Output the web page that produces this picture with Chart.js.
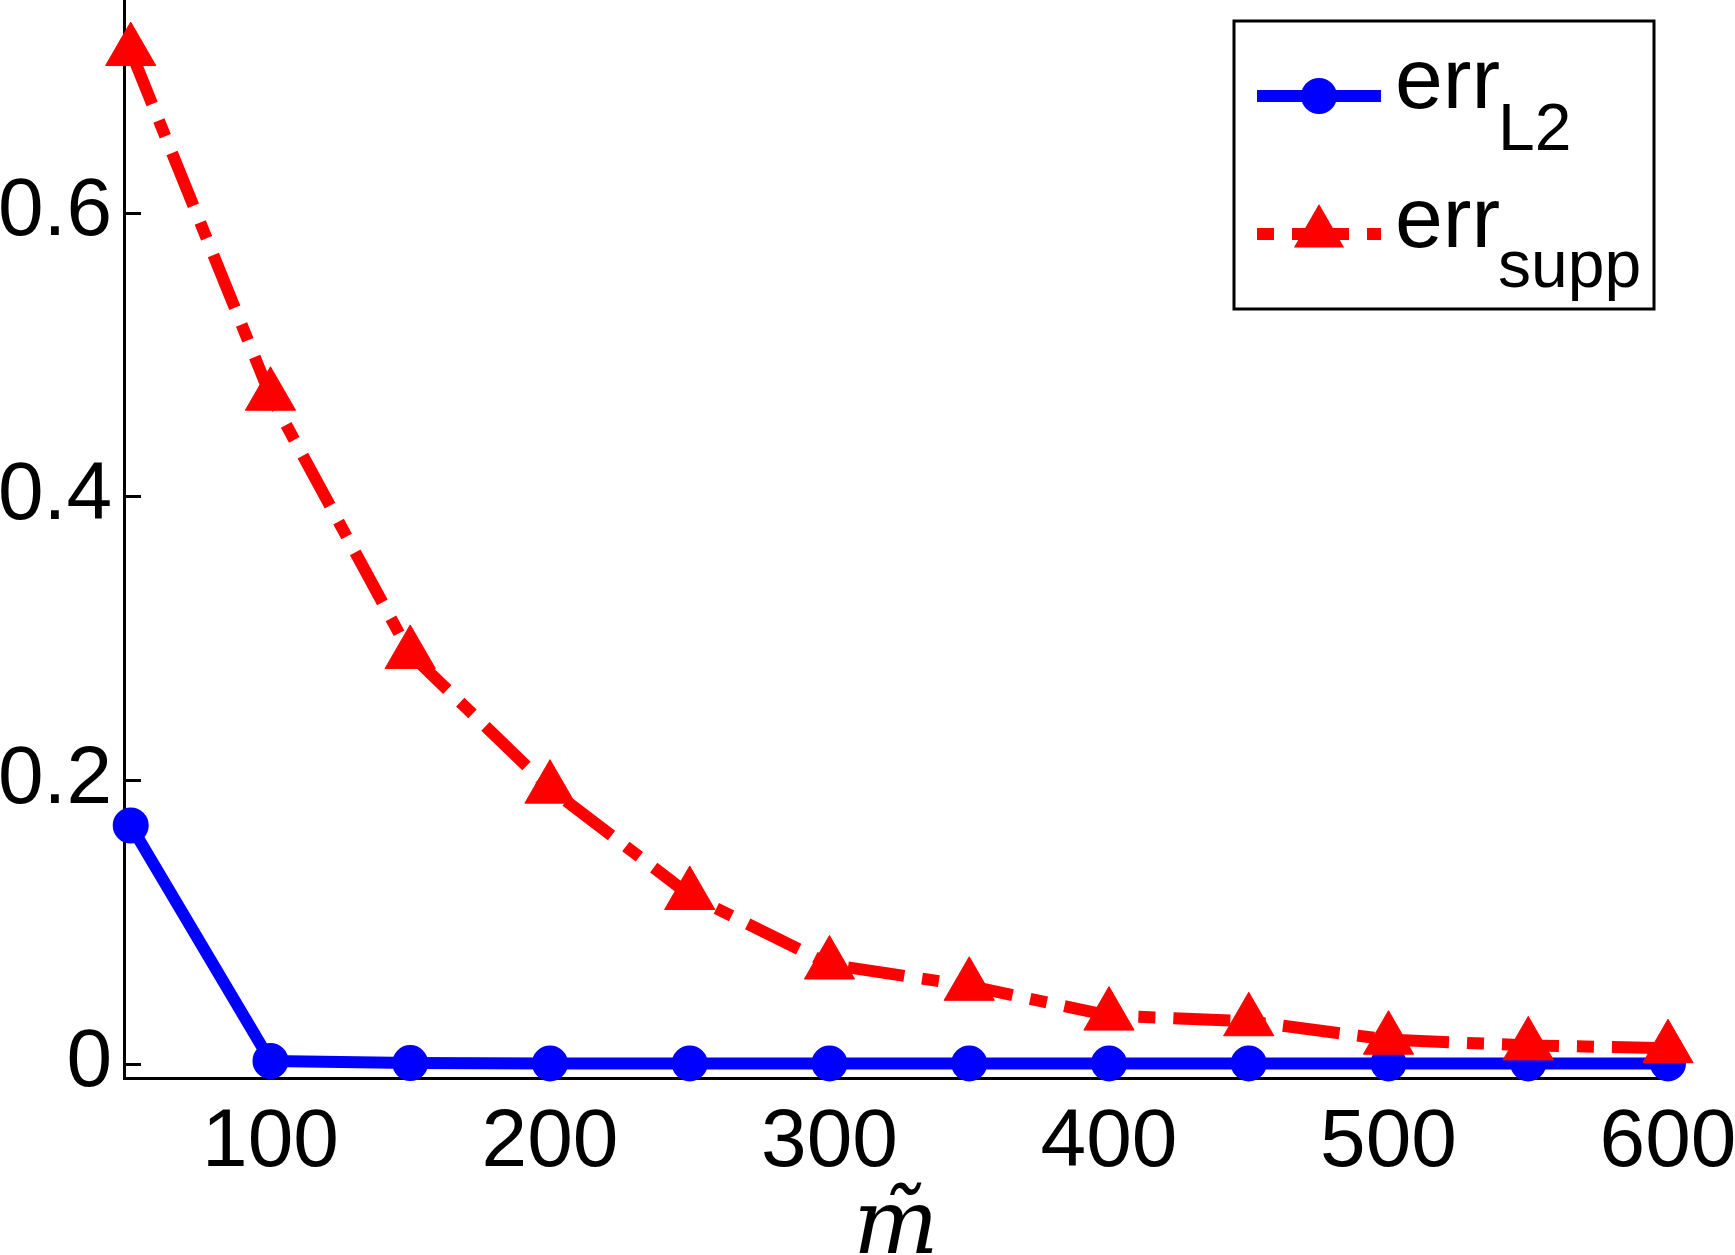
<!DOCTYPE html>
<html>
<head>
<meta charset="utf-8">
<script src="https://cdn.jsdelivr.net/npm/chart.js@4.4.1/dist/chart.umd.min.js"></script>
<style>
  html, body { margin: 0; padding: 0; background: #ffffff; }
  #wrap { width: 1735px; height: 1255px; position: relative; }
</style>
</head>
<body>
<div id="wrap"><canvas id="errChart"></canvas></div>
<script>
// values
const mTilde = [50, 100, 150, 200, 250, 300, 350, 400, 450, 500, 550, 600];
const errL2 = [0.168, 0.002, 0.0005, 0.0003, 0.0003, 0.0003, 0.0003, 0.0003, 0.0003, 0.0003, 0.0003, 0.0003];
const errSupp = [0.714, 0.471, 0.289, 0.194, 0.119, 0.070, 0.055, 0.034, 0.030, 0.017, 0.013, 0.011];
const xTickVals = [100, 200, 300, 400, 500, 600];
const yTickVals = [0, 0.2, 0.4, 0.6];
const yTickLabels = ['0', '0.2', '0.4', '0.6'];
const seriesNames = ['err', 'err'];
const seriesSubs = ['L2', 'supp'];

const FONT = "'Liberation Sans', Arial, Helvetica, sans-serif";
const dashDot = [57, 18, 17, 18];

// matlab style ticks drawn inward
const inwardTicks = {
  id: 'inwardTicks',
  beforeDatasetsDraw(chart) {
    const ctx = chart.ctx;
    const x = chart.scales.x, y = chart.scales.y;
    const area = chart.chartArea;
    const len = 17;
    ctx.save();
    ctx.strokeStyle = '#000000';
    ctx.lineWidth = 3;
    ctx.beginPath();
    yTickVals.forEach(v => {
      const py = Math.round(y.getPixelForValue(v)) + 0.5;
      ctx.moveTo(area.left, py);
      ctx.lineTo(area.left + len, py);
    });
    xTickVals.forEach(v => {
      const px = Math.round(x.getPixelForValue(v)) + 0.5;
      ctx.moveTo(px, area.bottom);
      ctx.lineTo(px, area.bottom - len);
    });
    ctx.stroke();
    ctx.restore();
  }
};

// legend with subscripts + axis title m~
const boxLegend = {
  id: 'boxLegend',
  afterDraw(chart) {
    const ctx = chart.ctx;
    const ds = chart.data.datasets;
    ctx.save();
    ctx.fillStyle = '#ffffff';
    ctx.fillRect(1234, 21, 420, 288);
    ctx.strokeStyle = '#000000';
    ctx.lineWidth = 3;
    ctx.strokeRect(1234, 21, 420, 288);

    const rows = [{ y: 96, base: 108, sub: 150 }, { y: 234, base: 247, sub: 287 }];
    // dataset order in chart: 0 = supp, 1 = L2
    const order = [1, 0];
    rows.forEach((row, i) => {
      const d = ds[order[i]];
      ctx.strokeStyle = d.borderColor;
      ctx.lineWidth = d.borderWidth;
      ctx.lineCap = 'butt';
      if (d.borderDash) {
        ctx.setLineDash(d.borderDash);
        ctx.lineDashOffset = d.borderDash[0] + d.borderDash[1];
      } else {
        ctx.setLineDash([]);
      }
      ctx.beginPath();
      ctx.moveTo(1257, row.y);
      ctx.lineTo(1381, row.y);
      ctx.stroke();
      ctx.setLineDash([]);

      ctx.fillStyle = d.pointBackgroundColor;
      const cx = 1319, r = d.pointRadius;
      ctx.beginPath();
      if (d.pointStyle === 'triangle') {
        const cy = row.y - 1;
        ctx.moveTo(cx, cy - r);
        ctx.lineTo(cx + r * Math.sqrt(3) / 2, cy + r / 2);
        ctx.lineTo(cx - r * Math.sqrt(3) / 2, cy + r / 2);
        ctx.closePath();
      } else {
        ctx.arc(cx, row.y, r + 1, 0, Math.PI * 2);
      }
      ctx.fill();

      ctx.fillStyle = '#000000';
      ctx.textBaseline = 'alphabetic';
      ctx.textAlign = 'left';
      ctx.font = '86px ' + FONT;
      ctx.fillText(seriesNames[i], 1395, row.base);
      const w = ctx.measureText(seriesNames[i]).width;
      ctx.font = '66px ' + FONT;
      ctx.fillText(seriesSubs[i], 1395 + w - 2, row.sub);
    });

    // x axis title
    const xs = chart.scales.x;
    ctx.font = 'italic 90px "DejaVu Serif", serif';
    ctx.textAlign = 'center';
    ctx.fillText('m\u0303', (xs.left + xs.right) / 2, 1253);
    ctx.restore();
  }
};

const ctx = document.getElementById('errChart').getContext('2d');

const cfg = {
  type: 'line',
  data: {
    datasets: [
      {
        label: 'err_supp',
        data: mTilde.map((m, i) => ({ x: m, y: errSupp[i] })),
        borderColor: '#ff0000',
        backgroundColor: '#ff0000',
        borderWidth: 12,
        borderDash: dashDot,
        borderCapStyle: 'butt',
        borderJoinStyle: 'miter',
        pointStyle: 'triangle',
        pointRadius: 29,
        pointBorderWidth: 1,
        pointBackgroundColor: '#ff0000',
        pointBorderColor: '#ff0000',
        tension: 0,
        clip: false
      },
      {
        label: 'err_L2',
        data: mTilde.map((m, i) => ({ x: m, y: errL2[i] })),
        borderColor: '#0000ff',
        backgroundColor: '#0000ff',
        borderWidth: 12,
        borderJoinStyle: 'round',
        pointStyle: 'circle',
        pointRadius: 17,
        pointBorderWidth: 2,
        pointBackgroundColor: '#0000ff',
        pointBorderColor: '#0000ff',
        tension: 0,
        clip: false
      }
    ]
  },
  options: {
    responsive: true,
    maintainAspectRatio: false,
    devicePixelRatio: 1,
    animation: false,
    layout: { autoPadding: false, padding: { left: 0, top: 0, right: 67, bottom: 0 } },
    plugins: {
      legend: { display: false },
      tooltip: { enabled: false },
      title: { display: false }
    },
    scales: {
      x: {
        type: 'linear',
        min: 47.6,
        max: 600,
        afterBuildTicks: s => { s.ticks = xTickVals.map(v => ({ value: v })); },
        afterFit: s => {
          s.height = 177;
          s.paddingLeft = 0; s.paddingRight = 0;
        },
        ticks: {
          color: '#000000',
          padding: 16,
          maxRotation: 0,
          autoSkip: false,
          font: { family: FONT, size: 82 },
          callback: v => String(v)
        },
        grid: { display: true, drawOnChartArea: false, drawTicks: false },
        border: { display: true, color: '#000000', width: 3 }
      },
      y: {
        type: 'linear',
        min: -0.01,
        max: 0.75,
        afterBuildTicks: s => { s.ticks = yTickVals.map(v => ({ value: v })); },
        afterFit: s => {
          s.width = 124;
          s.paddingTop = 0; s.paddingBottom = 0;
        },
        ticks: {
          color: '#000000',
          padding: 12,
          autoSkip: false,
          font: { family: FONT, size: 82 },
          callback: (v, i) => yTickLabels[i]
        },
        grid: { display: true, drawOnChartArea: false, drawTicks: false },
        border: { display: true, color: '#000000', width: 3 }
      }
    }
  },
  plugins: [inwardTicks, boxLegend]
};

const errChart = new Chart(ctx, cfg);
</script>
</body>
</html>
